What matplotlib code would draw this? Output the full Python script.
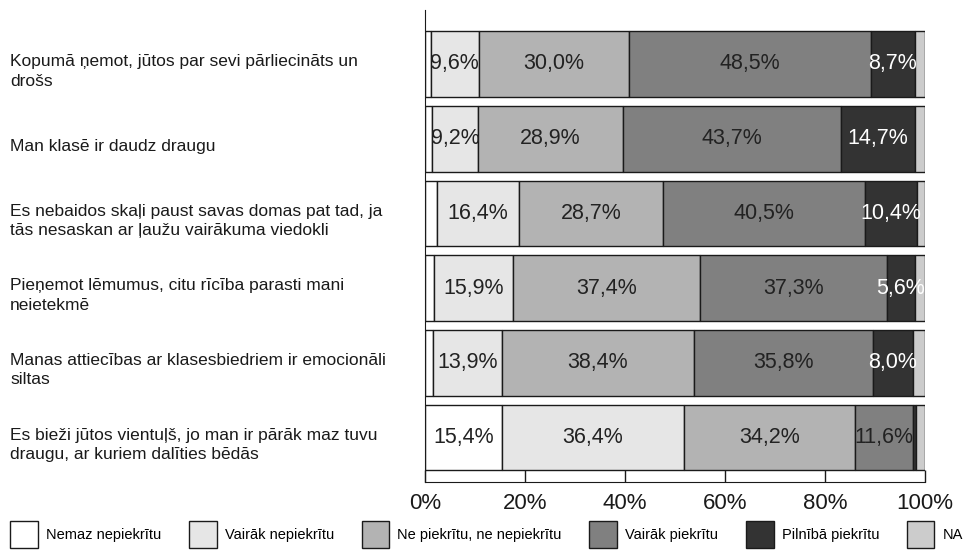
import matplotlib.pyplot as plt
import matplotlib.transforms as mtransforms
from matplotlib.patches import Patch

plt.rcParams['font.family'] = ['Liberation Sans', 'DejaVu Sans']

questions = [
    "Kopumā ņemot, jūtos par sevi pārliecināts un\ndrošs",
    "Man klasē ir daudz draugu",
    "Es nebaidos skaļi paust savas domas pat tad, ja\ntās nesaskan ar ļaužu vairākuma viedokli",
    "Pieņemot lēmumus, citu rīcība parasti mani\nneietekmē",
    "Manas attiecības ar klasesbiedriem ir emocionāli\nsiltas",
    "Es bieži jūtos vientuļš, jo man ir pārāk maz tuvu\ndraugu, ar kuriem dalīties bēdās",
]
answers = ["Nemaz nepiekrītu", "Vairāk nepiekrītu", "Ne piekrītu, ne nepiekrītu",
           "Vairāk piekrītu", "Pilnībā piekrītu", "NA"]

nemaz = [1.1, 1.4, 2.4, 1.7, 1.5, 15.4]
vairak_ne = [9.6, 9.2, 16.4, 15.9, 13.9, 36.4]
ne_ne = [30.0, 28.9, 28.7, 37.4, 38.4, 34.2]
vairak_pie = [48.5, 43.7, 40.5, 37.3, 35.8, 11.6]
pilniba = [8.7, 14.7, 10.4, 5.6, 8.0, 0.5]
na = [2.1, 2.1, 1.6, 2.1, 2.4, 1.9]

series = [nemaz, vairak_ne, ne_ne, vairak_pie, pilniba, na]
colors = ["#ffffff", "#e6e6e6", "#b3b3b3", "#808080", "#333333", "#cccccc"]
text_colors = ["#222222", "#222222", "#222222", "#222222", "#ffffff", "#222222"]

fig = plt.figure(figsize=(9.74, 5.52), dpi=100)
ax = fig.add_axes([425 / 974, 1 - 482 / 552, 500 / 974, 472 / 552])

ypos = list(range(len(questions)))
left = [0.0] * len(questions)
for vals, col, tcol in zip(series, colors, text_colors):
    ax.barh(ypos, vals, left=left, height=0.88, color=col,
            edgecolor="#1a1a1a", linewidth=1.0)
    for i, v in enumerate(vals):
        if v > 5:
            ax.text(left[i] + v / 2, i, f"{v:.1f}%".replace(".", ","),
                    ha="center", va="center", fontsize=15.5, color=tcol)
    left = [l + v for l, v in zip(left, vals)]

ax.set_xlim(0, 100)
ax.set_ylim(5.595, -0.722)
ax.set_yticks([])
ax.set_xticks([0, 20, 40, 60, 80, 100])
ax.set_xticklabels(["0%", "20%", "40%", "60%", "80%", "100%"], fontsize=16)
ax.tick_params(axis="x", direction="in", length=8.5, width=1, pad=8, colors="#1a1a1a")
for s in ["top", "right"]:
    ax.spines[s].set_visible(False)
ax.spines["left"].set_color("#1a1a1a")
ax.spines["bottom"].set_color("#1a1a1a")

trans = mtransforms.blended_transform_factory(fig.transFigure, ax.transData)
for i, q in enumerate(questions):
    ax.text(10 / 974, i + 0.1, q, transform=trans, ha="left", va="center",
            fontsize=12.5, color="#1a1a1a", linespacing=1.35)

handles = [Patch(facecolor=c, edgecolor="#1a1a1a", linewidth=1.0) for c in colors]
fig.legend(handles, answers, loc="lower left", bbox_to_anchor=(0.0, -0.012),
           ncol=6, frameon=False, fontsize=10.5, handlelength=1.9, handleheight=2.5,
           handletextpad=0.55, columnspacing=1.9, borderaxespad=0.3)

fig.savefig("out.png", dpi=100)
